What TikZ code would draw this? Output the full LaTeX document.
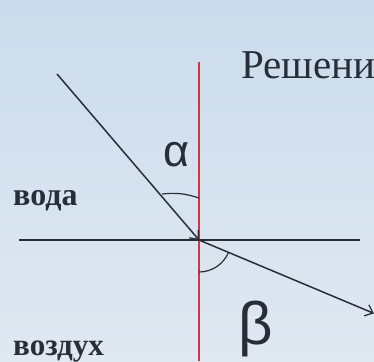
\documentclass[tikz,border=0pt]{standalone}
\usepackage{fontspec}
\setmainfont{Liberation Serif}
\newfontfamily\greekf{Liberation Sans}
\usetikzlibrary{arrows.meta}
\definecolor{bgtop}{RGB}{203,220,236}
\definecolor{bgbot}{RGB}{224,232,241}
\definecolor{ink}{RGB}{40,46,56}
\definecolor{normalred}{RGB}{205,55,65}
\tikzset{
  ray/.style={draw=ink, line width=1.5pt, -{Straight Barb[length=7pt,width=12pt,line width=1.3pt]}},
  surface/.style={draw=ink, line width=1.5pt},
  normalline/.style={draw=normalred, line width=1.2pt},
  anglearc/.style={draw=ink, line width=1.2pt},
  medium/.style={font=\fontsize{32}{32}\selectfont\bfseries, text=ink, anchor=base west, inner sep=0pt},
  greek/.style={font=\greekf, text=ink, inner sep=0pt}
}
\begin{document}
\begin{tikzpicture}[x=1pt,y=-1pt]
\useasboundingbox (0,0) rectangle (374,361);
\clip (0,0) rectangle (374,361);
\shade[top color=bgtop, bottom color=bgbot] (0,0) rectangle (374,361);
% points
\coordinate (O) at (199,240);
\coordinate (N) at (199,62);
\coordinate (S) at (199,361);
\coordinate (L) at (19,240);
\coordinate (R) at (360,240);
\coordinate (A) at (57,74);
\coordinate (B) at (373,313);
\coordinate (a1) at (162,194);
\coordinate (a2) at (199,198);
% lines
\draw[normalline] (N) -- (S);
\draw[surface] (L) -- (R);
\draw[ray] (A) -- (O);
\draw[ray, shorten >=-1pt] (O) -- (B);
% angle arcs
\draw[anglearc] (a1) to[bend left=12] (a2);
\draw[anglearc] (O) ++(90:32) arc[start angle=90, end angle=22.8, radius=32];
% labels
\node[greek, font=\greekf\fontsize{45}{45}\selectfont] (alpha) at (176.5,155) {α};
\node[greek, font=\greekf\fontsize{60}{60}\selectfont] (beta) at (256,329) {β};
\node[medium] (voda) at (13,205) {вода};
\node[medium, font=\fontsize{31}{31}\selectfont\bfseries] (vozduh) at (13,355) {воздух};
\node[font=\fontsize{41}{41}\selectfont, text=ink, anchor=base west, inner sep=0pt] (title) at (241,78) {Решени};
\end{tikzpicture}
\end{document}
